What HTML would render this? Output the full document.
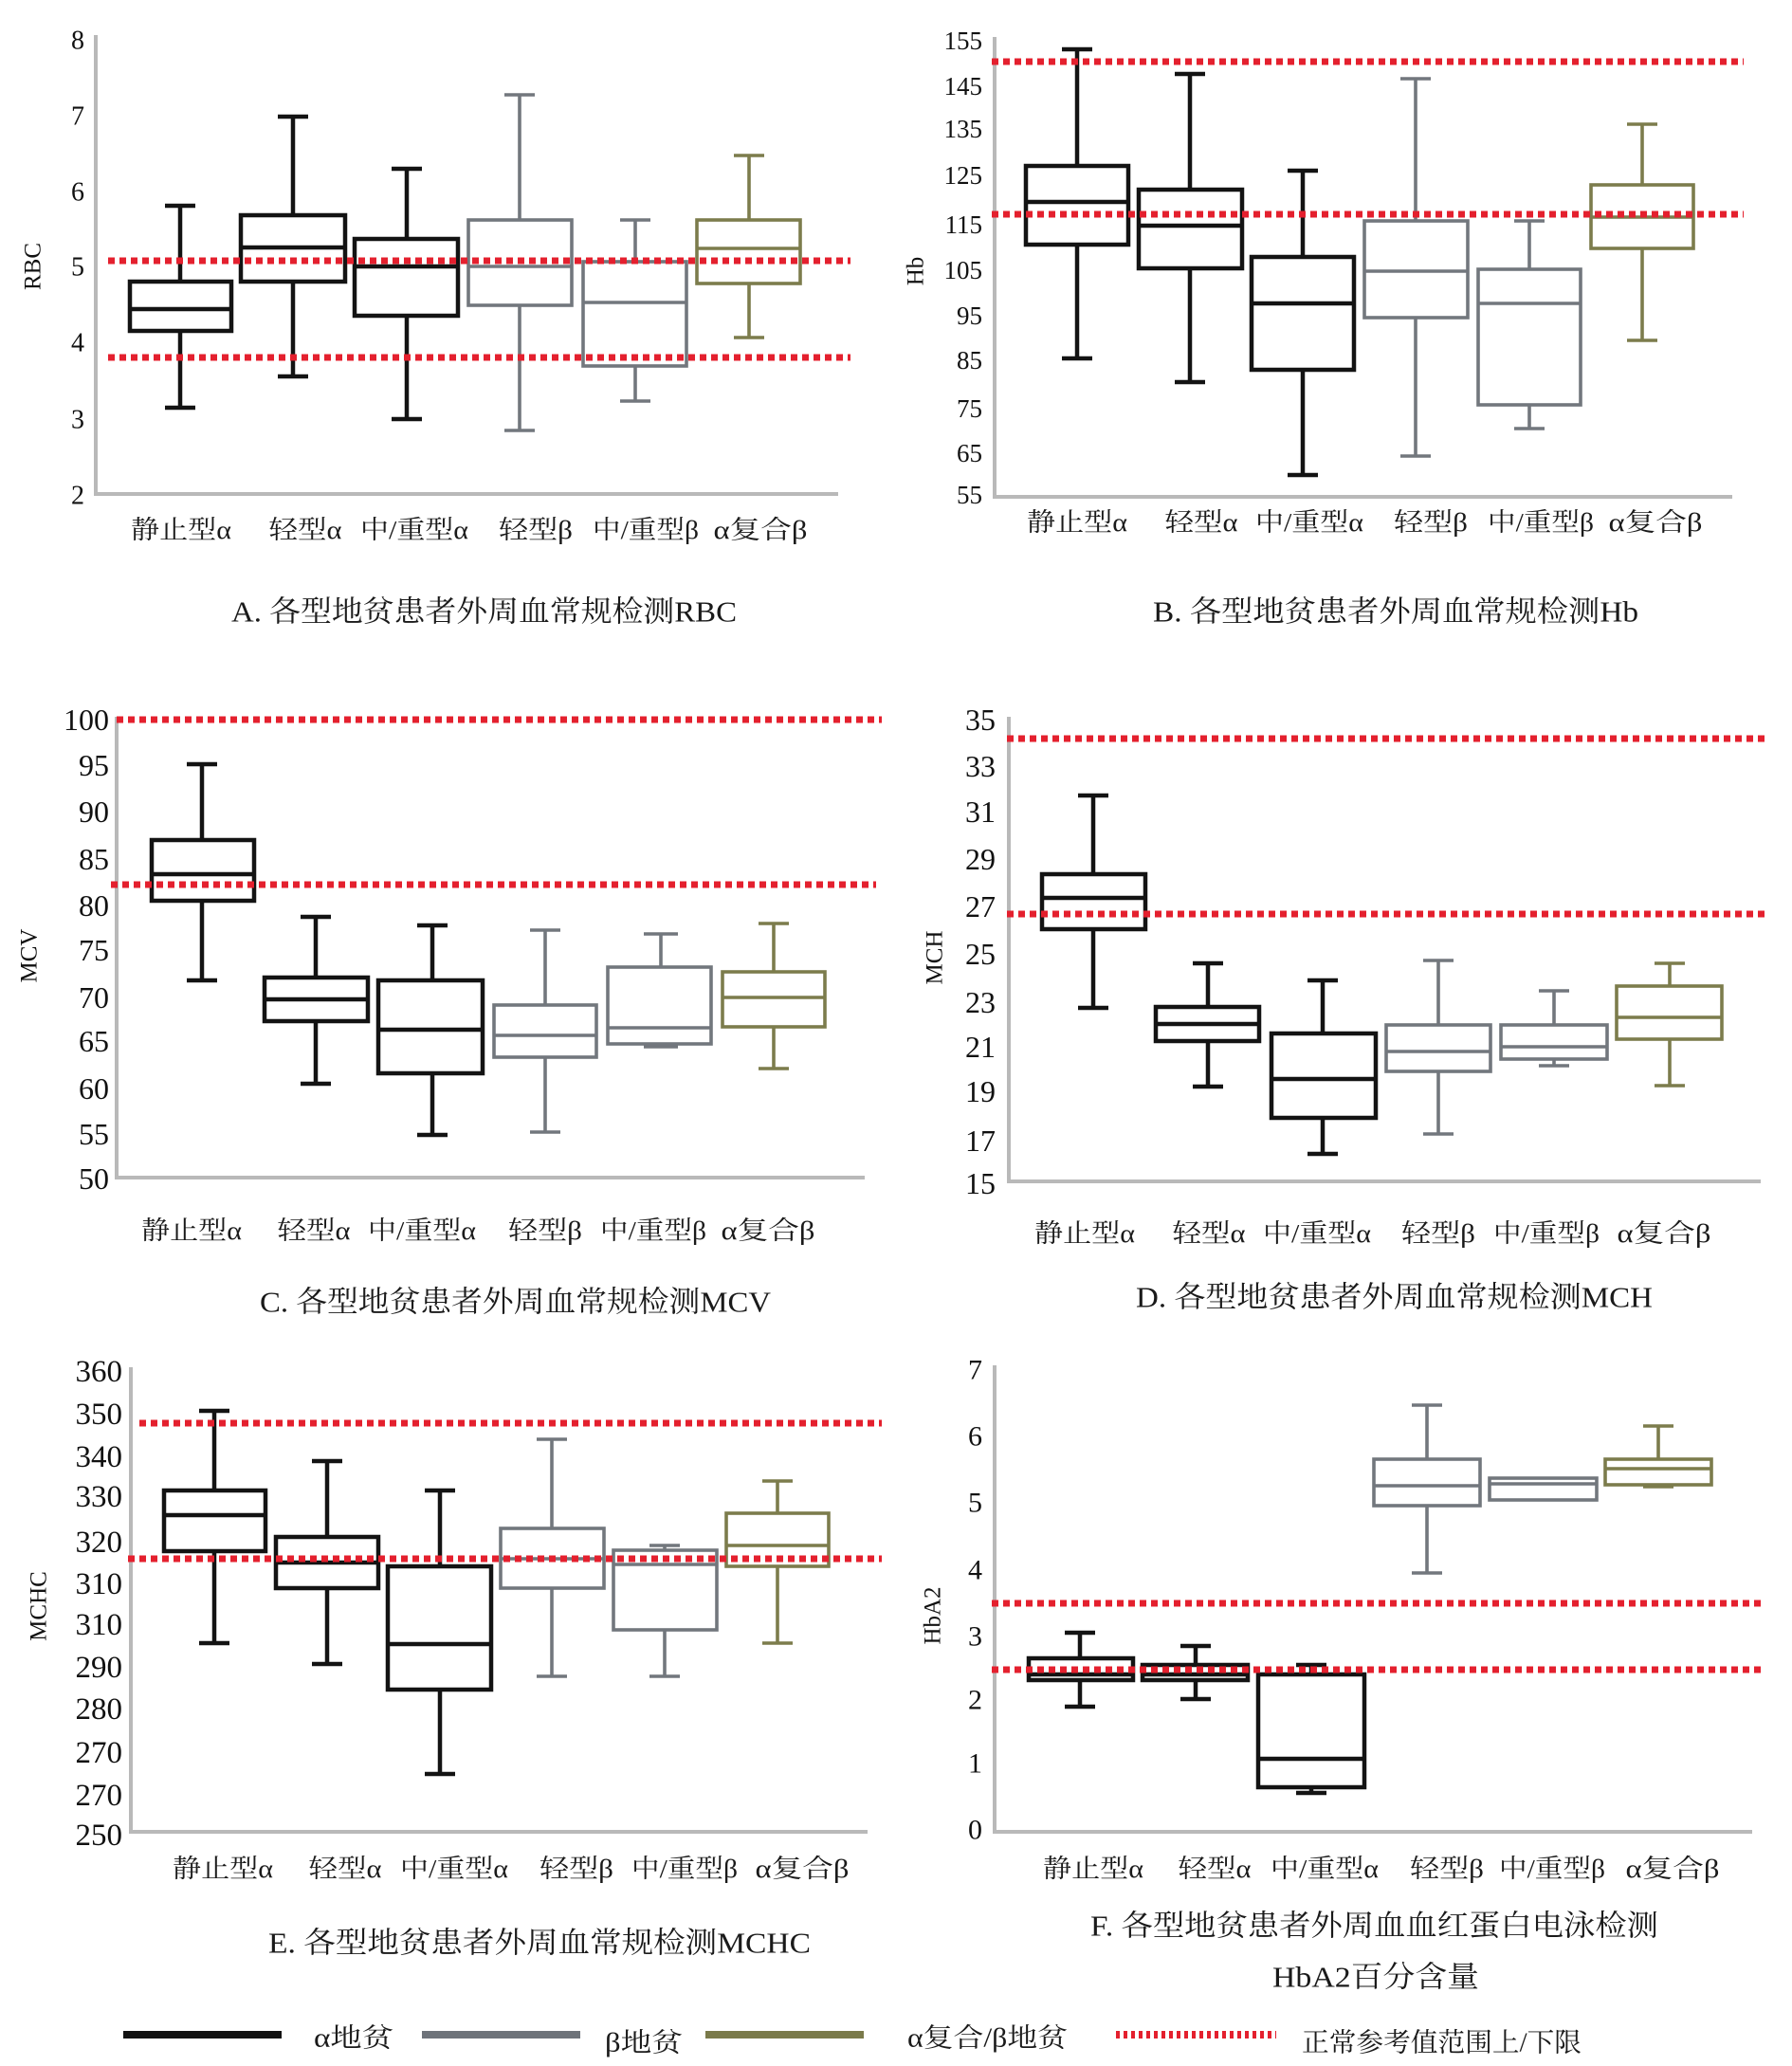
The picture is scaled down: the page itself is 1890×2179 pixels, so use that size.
<!DOCTYPE html>
<html>
<head>
<meta charset="utf-8">
<style>
html,body{margin:0;padding:0;background:#fff;}
svg{display:block;}
.tk{font-family:"Liberation Serif","Noto Serif CJK SC",serif;fill:#111;text-anchor:end;dominant-baseline:central;}
.yl{font-family:"Liberation Serif","Noto Serif CJK SC",serif;fill:#111;font-size:25px;text-anchor:middle;dominant-baseline:central;}
.xl{font-family:"Liberation Serif","Noto Serif CJK SC",serif;fill:#1a1a1a;font-size:27px;text-anchor:middle;dominant-baseline:central;}
.tt{font-family:"Liberation Serif","Noto Serif CJK SC",serif;fill:#1a1a1a;font-size:31px;dominant-baseline:central;}
.lg{font-family:"Liberation Serif","Noto Serif CJK SC",serif;fill:#1a1a1a;font-size:28px;dominant-baseline:central;}
.ax{stroke:#b9b9b9;stroke-width:4;fill:none;}
.rd{stroke:#e4202e;stroke-width:7;stroke-dasharray:7 5;fill:none;}
.k{stroke:#131313;stroke-width:4.5;fill:none;}
.g{stroke:#72777d;stroke-width:3.6;fill:none;}
.o{stroke:#7c7c4c;stroke-width:3.6;fill:none;}
</style>
</head>
<body>
<svg width="1890" height="2179" viewBox="0 0 1890 2179" xmlns="http://www.w3.org/2000/svg">
<rect width="1890" height="2179" fill="#fff"/>

<!-- ================= Panel A ================= -->
<path class="ax" d="M101 37V521H884"/>
<g class="tk" font-size="28">
<text x="89" y="43">8</text><text x="89" y="123">7</text><text x="89" y="203">6</text><text x="89" y="282">5</text><text x="89" y="362">4</text><text x="89" y="443">3</text><text x="89" y="523">2</text>
</g>
<text class="yl" transform="translate(35,281) rotate(-90)">RBC</text>
<g class="k">
<path d="M190 217V297M190 349V430M174 217H206M174 430H206M137 326H244"/><rect x="137" y="297" width="107" height="52"/>
<path d="M309 123V227M309 297V397M293 123H325M293 397H325M254 261H364"/><rect x="254" y="227" width="110" height="70"/>
<path d="M429 178V252M429 333V442M413 178H445M413 442H445M374 281H483"/><rect x="374" y="252" width="109" height="81"/>
</g>
<g class="g">
<path d="M548 100V232M548 322V454M532 100H564M532 454H564M494 281H603"/><rect x="494" y="232" width="109" height="90"/>
<path d="M670 232V276M670 386V423M654 232H686M654 423H686M615 319H724"/><rect x="615" y="276" width="109" height="110"/>
</g>
<g class="o">
<path d="M790 164V232M790 299V356M774 164H806M774 356H806M735 262H844"/><rect x="735" y="232" width="109" height="67"/>
</g>
<path class="rd" d="M114 275H897M114 377H897"/>
<g class="xl">
<text x="191" y="559" textLength="106" lengthAdjust="spacingAndGlyphs">静止型α</text>
<text x="322" y="559" textLength="77" lengthAdjust="spacingAndGlyphs">轻型α</text>
<text x="437" y="559" textLength="114" lengthAdjust="spacingAndGlyphs">中/重型α</text>
<text x="565" y="559" textLength="78" lengthAdjust="spacingAndGlyphs">轻型β</text>
<text x="681" y="559" textLength="112" lengthAdjust="spacingAndGlyphs">中/重型β</text>
<text x="802" y="559" textLength="99" lengthAdjust="spacingAndGlyphs">α复合β</text>
</g>
<text class="tt" x="244" y="645" textLength="533" lengthAdjust="spacingAndGlyphs">A. 各型地贫患者外周血常规检测RBC</text>

<!-- ================= Panel B ================= -->
<path class="ax" d="M1049 39V524H1827"/>
<g class="tk" font-size="27">
<text x="1036" y="43">155</text><text x="1036" y="91">145</text><text x="1036" y="136">135</text><text x="1036" y="185">125</text><text x="1036" y="237">115</text><text x="1036" y="285">105</text><text x="1036" y="333">95</text><text x="1036" y="380">85</text><text x="1036" y="431">75</text><text x="1036" y="478">65</text><text x="1036" y="522">55</text>
</g>
<text class="yl" transform="translate(966,286) rotate(-90)">Hb</text>
<g class="k">
<path d="M1136 52V175M1136 258V378M1120 52H1152M1120 378H1152M1082 213H1190"/><rect x="1082" y="175" width="108" height="83"/>
<path d="M1255 78V200M1255 283V403M1239 78H1271M1239 403H1271M1201 238H1310"/><rect x="1201" y="200" width="109" height="83"/>
<path d="M1374 180V271M1374 390V501M1358 180H1390M1358 501H1390M1320 320H1428"/><rect x="1320" y="271" width="108" height="119"/>
</g>
<g class="g">
<path d="M1493 83V233M1493 335V481M1477 83H1509M1477 481H1509M1439 286H1548"/><rect x="1439" y="233" width="109" height="102"/>
<path d="M1613 233V284M1613 427V452M1597 233H1629M1597 452H1629M1559 320H1667"/><rect x="1559" y="284" width="108" height="143"/>
</g>
<g class="o">
<path d="M1732 131V195M1732 262V359M1716 131H1748M1716 359H1748M1678 229H1786"/><rect x="1678" y="195" width="108" height="67"/>
</g>
<path class="rd" d="M1046 65H1839M1046 226H1839"/>
<g class="xl">
<text x="1136" y="551" textLength="106" lengthAdjust="spacingAndGlyphs">静止型α</text>
<text x="1267" y="551" textLength="77" lengthAdjust="spacingAndGlyphs">轻型α</text>
<text x="1381" y="551" textLength="114" lengthAdjust="spacingAndGlyphs">中/重型α</text>
<text x="1509" y="551" textLength="78" lengthAdjust="spacingAndGlyphs">轻型β</text>
<text x="1625" y="551" textLength="112" lengthAdjust="spacingAndGlyphs">中/重型β</text>
<text x="1746" y="551" textLength="99" lengthAdjust="spacingAndGlyphs">α复合β</text>
</g>
<text class="tt" x="1216" y="645" textLength="512" lengthAdjust="spacingAndGlyphs">B. 各型地贫患者外周血常规检测Hb</text>

<!-- ================= Panel C ================= -->
<path class="ax" d="M123 756V1242H912"/>
<g class="tk" font-size="32">
<text x="115" y="759">100</text><text x="115" y="807">95</text><text x="115" y="856">90</text><text x="115" y="906">85</text><text x="115" y="955">80</text><text x="115" y="1002">75</text><text x="115" y="1052">70</text><text x="115" y="1098">65</text><text x="115" y="1148">60</text><text x="115" y="1196">55</text><text x="115" y="1243">50</text>
</g>
<text class="yl" transform="translate(31,1008) rotate(-90)">MCV</text>
<g class="k">
<path d="M213 806V886M213 950V1034M197 806H229M197 1034H229M160 922H268"/><rect x="160" y="886" width="108" height="64"/>
<path d="M333 967V1031M333 1077V1143M317 967H349M317 1143H349M279 1054H388"/><rect x="279" y="1031" width="109" height="46"/>
<path d="M456 976V1034M456 1132V1197M440 976H472M440 1197H472M399 1086H509"/><rect x="399" y="1034" width="110" height="98"/>
</g>
<g class="g">
<path d="M575 981V1060M575 1115V1194M559 981H591M559 1194H591M521 1092H629"/><rect x="521" y="1060" width="108" height="55"/>
<path d="M697 985V1020M697 1101V1104M679 985H715M679 1104H715M641 1084H750"/><rect x="641" y="1020" width="109" height="81"/>
</g>
<g class="o">
<path d="M816 974V1025M816 1083V1127M800 974H832M800 1127H832M762 1052H870"/><rect x="762" y="1025" width="108" height="58"/>
</g>
<path class="rd" d="M123 759H930M117 933H924"/>
<g class="xl">
<text x="202" y="1298" textLength="106" lengthAdjust="spacingAndGlyphs">静止型α</text>
<text x="331" y="1298" textLength="77" lengthAdjust="spacingAndGlyphs">轻型α</text>
<text x="445" y="1298" textLength="114" lengthAdjust="spacingAndGlyphs">中/重型α</text>
<text x="575" y="1298" textLength="78" lengthAdjust="spacingAndGlyphs">轻型β</text>
<text x="689" y="1298" textLength="112" lengthAdjust="spacingAndGlyphs">中/重型β</text>
<text x="810" y="1298" textLength="99" lengthAdjust="spacingAndGlyphs">α复合β</text>
</g>
<text class="tt" x="274" y="1373" textLength="539" lengthAdjust="spacingAndGlyphs">C. 各型地贫患者外周血常规检测MCV</text>

<!-- ================= Panel D ================= -->
<path class="ax" d="M1064 756V1246H1857"/>
<g class="tk" font-size="32">
<text x="1050" y="759">35</text><text x="1050" y="808">33</text><text x="1050" y="856">31</text><text x="1050" y="906">29</text><text x="1050" y="956">27</text><text x="1050" y="1006">25</text><text x="1050" y="1057">23</text><text x="1050" y="1104">21</text><text x="1050" y="1151">19</text><text x="1050" y="1203">17</text><text x="1050" y="1248">15</text>
</g>
<text class="yl" transform="translate(986,1010) rotate(-90)">MCH</text>
<g class="k">
<path d="M1153 839V922M1153 980V1063M1137 839H1169M1137 1063H1169M1099 947H1208"/><rect x="1099" y="922" width="109" height="58"/>
<path d="M1274 1016V1062M1274 1098V1146M1258 1016H1290M1258 1146H1290M1219 1080H1328"/><rect x="1219" y="1062" width="109" height="36"/>
<path d="M1395 1034V1090M1395 1179V1217M1379 1034H1411M1379 1217H1411M1341 1138H1451"/><rect x="1341" y="1090" width="110" height="89"/>
</g>
<g class="g">
<path d="M1517 1013V1081M1517 1130V1196M1501 1013H1533M1501 1196H1533M1462 1109H1572"/><rect x="1462" y="1081" width="110" height="49"/>
<path d="M1639 1045V1081M1639 1117V1124M1623 1045H1655M1623 1124H1655M1583 1104H1695"/><rect x="1583" y="1081" width="112" height="36"/>
</g>
<g class="o">
<path d="M1761 1016V1040M1761 1096V1145M1745 1016H1777M1745 1145H1777M1705 1073H1816"/><rect x="1705" y="1040" width="111" height="56"/>
</g>
<path class="rd" d="M1062 779H1866M1062 964H1866"/>
<g class="xl">
<text x="1144" y="1301" textLength="106" lengthAdjust="spacingAndGlyphs">静止型α</text>
<text x="1275" y="1301" textLength="77" lengthAdjust="spacingAndGlyphs">轻型α</text>
<text x="1389" y="1301" textLength="114" lengthAdjust="spacingAndGlyphs">中/重型α</text>
<text x="1517" y="1301" textLength="78" lengthAdjust="spacingAndGlyphs">轻型β</text>
<text x="1631" y="1301" textLength="112" lengthAdjust="spacingAndGlyphs">中/重型β</text>
<text x="1755" y="1301" textLength="99" lengthAdjust="spacingAndGlyphs">α复合β</text>
</g>
<text class="tt" x="1198" y="1368" textLength="545" lengthAdjust="spacingAndGlyphs">D. 各型地贫患者外周血常规检测MCH</text>

<!-- ================= Panel E ================= -->
<path class="ax" d="M138 1442V1932H915"/>
<g class="tk" font-size="33">
<text x="129" y="1447">360</text><text x="129" y="1492">350</text><text x="129" y="1537">340</text><text x="129" y="1579">330</text><text x="129" y="1627">320</text><text x="129" y="1671">310</text><text x="129" y="1714">310</text><text x="129" y="1759">290</text><text x="129" y="1803">280</text><text x="129" y="1849">270</text><text x="129" y="1894">270</text><text x="129" y="1936">250</text>
</g>
<text class="yl" transform="translate(41,1694) rotate(-90)">MCHC</text>
<g class="k">
<path d="M226 1488V1572M226 1636V1733M210 1488H242M210 1733H242M173 1598H280"/><rect x="173" y="1572" width="107" height="64"/>
<path d="M345 1541V1621M345 1675V1755M329 1541H361M329 1755H361M291 1648H399"/><rect x="291" y="1621" width="108" height="54"/>
<path d="M464 1572V1652M464 1782V1871M448 1572H480M448 1871H480M409 1734H518"/><rect x="409" y="1652" width="109" height="130"/>
</g>
<g class="g">
<path d="M582 1518V1612M582 1675V1768M566 1518H598M566 1768H598M528 1644H637"/><rect x="528" y="1612" width="109" height="63"/>
<path d="M701 1630V1635M701 1719V1768M685 1630H717M685 1768H717M647 1650H756"/><rect x="647" y="1635" width="109" height="84"/>
</g>
<g class="o">
<path d="M820 1562V1596M820 1652V1733M804 1562H836M804 1733H836M766 1630H874"/><rect x="766" y="1596" width="108" height="56"/>
</g>
<path class="rd" d="M147 1501H930M135 1644H930"/>
<g class="xl">
<text x="235" y="1971" textLength="106" lengthAdjust="spacingAndGlyphs">静止型α</text>
<text x="364" y="1971" textLength="77" lengthAdjust="spacingAndGlyphs">轻型α</text>
<text x="479" y="1971" textLength="114" lengthAdjust="spacingAndGlyphs">中/重型α</text>
<text x="608" y="1971" textLength="78" lengthAdjust="spacingAndGlyphs">轻型β</text>
<text x="722" y="1971" textLength="112" lengthAdjust="spacingAndGlyphs">中/重型β</text>
<text x="846" y="1971" textLength="99" lengthAdjust="spacingAndGlyphs">α复合β</text>
</g>
<text class="tt" x="283" y="2049" textLength="572" lengthAdjust="spacingAndGlyphs">E. 各型地贫患者外周血常规检测MCHC</text>

<!-- ================= Panel F ================= -->
<path class="ax" d="M1049 1440V1932H1848"/>
<g class="tk" font-size="30">
<text x="1036" y="1445">7</text><text x="1036" y="1515">6</text><text x="1036" y="1585">5</text><text x="1036" y="1656">4</text><text x="1036" y="1726">3</text><text x="1036" y="1793">2</text><text x="1036" y="1860">1</text><text x="1036" y="1930">0</text>
</g>
<text class="yl" transform="translate(984,1704) rotate(-90)">HbA2</text>
<g class="k">
<path d="M1139 1722V1749M1139 1772V1800M1123 1722H1155M1123 1800H1155M1085 1766H1195"/><rect x="1085" y="1749" width="110" height="23"/>
<path d="M1261 1736V1756M1261 1772V1792M1245 1736H1277M1245 1792H1277M1205 1766H1316"/><rect x="1205" y="1756" width="111" height="16"/>
<path d="M1383 1756V1766M1383 1885V1891M1367 1756H1399M1367 1891H1399M1327 1855H1439"/><rect x="1327" y="1766" width="112" height="119"/>
</g>
<g class="g">
<path d="M1505 1482V1539M1505 1588V1659M1489 1482H1521M1489 1659H1521M1449 1567H1561"/><rect x="1449" y="1539" width="112" height="49"/>
<path d="M1571 1565H1684"/><rect x="1571" y="1559" width="113" height="23"/>
</g>
<g class="o">
<path d="M1749 1504V1539M1733 1504H1765M1733 1568H1765M1693 1549H1805"/><rect x="1693" y="1539" width="112" height="27"/>
</g>
<path class="rd" d="M1046 1691H1857M1046 1761H1857"/>
<g class="xl">
<text x="1153" y="1971" textLength="106" lengthAdjust="spacingAndGlyphs">静止型α</text>
<text x="1281" y="1971" textLength="77" lengthAdjust="spacingAndGlyphs">轻型α</text>
<text x="1397" y="1971" textLength="114" lengthAdjust="spacingAndGlyphs">中/重型α</text>
<text x="1526" y="1971" textLength="78" lengthAdjust="spacingAndGlyphs">轻型β</text>
<text x="1637" y="1971" textLength="112" lengthAdjust="spacingAndGlyphs">中/重型β</text>
<text x="1764" y="1971" textLength="99" lengthAdjust="spacingAndGlyphs">α复合β</text>
</g>
<text class="tt" x="1150" y="2031" textLength="599" lengthAdjust="spacingAndGlyphs">F. 各型地贫患者外周血血红蛋白电泳检测</text>
<text class="tt" x="1342" y="2085" textLength="218" lengthAdjust="spacingAndGlyphs">HbA2百分含量</text>

<!-- ================= Legend ================= -->
<path d="M130 2146H297" stroke="#121212" stroke-width="8"/>
<path d="M445 2146H612" stroke="#6e737a" stroke-width="8"/>
<path d="M744 2146H911" stroke="#7a7a4a" stroke-width="8"/>
<path d="M1177 2146H1346" stroke="#e4202e" stroke-width="8" stroke-dasharray="4 4"/>
<text class="lg" x="331" y="2150" textLength="84" lengthAdjust="spacingAndGlyphs">α地贫</text>
<text class="lg" x="638" y="2155" textLength="82" lengthAdjust="spacingAndGlyphs">β地贫</text>
<text class="lg" x="957" y="2150" textLength="169" lengthAdjust="spacingAndGlyphs">α复合/β地贫</text>
<text class="lg" x="1373" y="2155" textLength="295" lengthAdjust="spacingAndGlyphs">正常参考值范围上/下限</text>
</svg>
</body>
</html>
